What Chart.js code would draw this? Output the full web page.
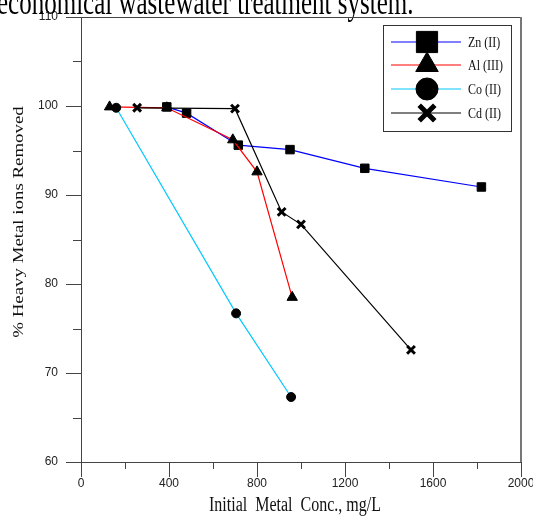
<!DOCTYPE html>
<html>
<head>
<meta charset="utf-8">
<script src="https://cdn.jsdelivr.net/npm/chart.js@4"></script>
<style>
  html, body { margin: 0; padding: 0; background: #fff; }
  #wrap { width: 533px; height: 516px; position: relative; }
</style>
</head>
<body>
<div id="wrap"><canvas id="chart"></canvas></div>
<script>
// values
const znConc = [390, 480, 715, 950, 1290, 1820];
const znRemoved = [99.9, 99.2, 95.6, 95.1, 93.0, 90.9];
const alConc = [130, 390, 690, 800, 960];
const alRemoved = [99.9, 99.8, 96.2, 92.6, 78.5];
const coConc = [160, 705, 955];
const coRemoved = [99.8, 76.7, 67.3];
const cdConc = [255, 700, 912, 1000, 1500];
const cdRemoved = [99.8, 99.7, 88.1, 86.7, 72.6];

const seriesNames = ['Zn (II)', 'Al (III)', 'Co (II)', 'Cd (II)'];
const xMinorTicks = [200, 600, 1000, 1400, 1800];
const yMinorTicks = [65, 75, 85, 95, 105];

const headText = 'economical wastewater treatment system.';
const xTitle = 'Initial  Metal  Conc., mg/L';
const yTitle = '% Heavy Metal ions Removed';

// the serif texts in the picture look stretched vertically
const textStretch = 1.3;
const serif = '"Liberation Serif", "Times New Roman", serif';

function toPoints(xs, ys) {
    return xs.map((x, i) => ({ x: x, y: ys[i] }));
}

const styles = [
    { color: '#0000ff', point: 'rect', radius: 6, legendRadius: 15 },
    { color: '#ff0000', point: 'triangle', radius: 6, legendRadius: 13 },
    { color: '#00c8ff', point: 'circle', radius: 4.5, legendRadius: 11 },
    { color: '#000000', point: 'crossRot', radius: 5.5, legendRadius: 11 }
];
const allData = [
    toPoints(znConc, znRemoved),
    toPoints(alConc, alRemoved),
    toPoints(coConc, coRemoved),
    toPoints(cdConc, cdRemoved)
];

const datasets = allData.map((d, i) => ({
    label: seriesNames[i],
    data: d,
    showLine: true,
    borderColor: styles[i].color,
    borderWidth: 1.2,
    pointStyle: styles[i].point,
    pointRadius: styles[i].radius,
    pointBackgroundColor: '#000',
    pointBorderColor: '#000',
    pointBorderWidth: styles[i].point === 'crossRot' ? 3 : 1,
    order: 3 - i
}));

function stretchedText(ctx, text, x, y, sx, sy) {
    ctx.save();
    ctx.translate(x, y);
    ctx.scale(sx, sy);
    ctx.fillText(text, 0, 0);
    ctx.restore();
}

// extra drawing: frame, tick marks, titles, legend and the cut text line on top
const extras = {
    id: 'extras',
    afterDraw(chart) {
        const ctx = chart.ctx;
        const a = chart.chartArea;
        const xs = chart.scales.x, ys = chart.scales.y;
        ctx.save();

        // text cut off at the top
        ctx.fillStyle = '#000';
        ctx.font = '25px ' + serif;
        ctx.textAlign = 'left';
        ctx.textBaseline = 'alphabetic';
        stretchedText(ctx, headText, -3, 14, 1, 1.42);

        // frame top + right
        ctx.strokeStyle = '#444';
        ctx.lineWidth = 1;
        ctx.beginPath();
        ctx.moveTo(a.left, a.top + 0.5);
        ctx.lineTo(a.right, a.top + 0.5);
        ctx.stroke();
        ctx.strokeStyle = '#777';
        ctx.lineWidth = 2;
        ctx.beginPath();
        ctx.moveTo(a.right, a.top);
        ctx.lineTo(a.right, a.bottom);
        ctx.stroke();

        // major + minor ticks
        ctx.strokeStyle = '#444';
        ctx.lineWidth = 1;
        ctx.beginPath();
        ys.ticks.forEach(t => {
            const py = Math.round(ys.getPixelForValue(t.value)) + 0.5;
            ctx.moveTo(a.left - 15, py);
            ctx.lineTo(a.left, py);
        });
        xs.ticks.forEach(t => {
            const px = Math.round(xs.getPixelForValue(t.value)) + 0.5;
            ctx.moveTo(px, a.bottom);
            ctx.lineTo(px, a.bottom + 15);
        });
        yMinorTicks.forEach(v => {
            const py = Math.round(ys.getPixelForValue(v)) + 0.5;
            ctx.moveTo(a.left - 8, py);
            ctx.lineTo(a.left, py);
        });
        xMinorTicks.forEach(v => {
            const px = Math.round(xs.getPixelForValue(v)) + 0.5;
            ctx.moveTo(px, a.bottom);
            ctx.lineTo(px, a.bottom + 7);
        });
        ctx.stroke();

        // axis titles
        ctx.fillStyle = '#111';
        ctx.font = '16px ' + serif;
        ctx.textAlign = 'center';
        stretchedText(ctx, xTitle, 295, 511, 1, textStretch);
        ctx.save();
        ctx.translate(23, 222);
        ctx.rotate(-Math.PI / 2);
        ctx.font = '14.5px ' + serif;
        stretchedText(ctx, yTitle, 0, 0, textStretch, 1);
        ctx.restore();

        // legend
        const lx = 383, ly = 25, lw = 128, lh = 106;
        ctx.fillStyle = '#fff';
        ctx.fillRect(lx, ly, lw, lh);
        ctx.strokeStyle = '#333';
        ctx.lineWidth = 1;
        ctx.strokeRect(lx + 0.5, ly + 0.5, lw, lh);
        const rowY = [42, 65, 89, 113];
        seriesNames.forEach((name, i) => {
            const y = rowY[i];
            ctx.strokeStyle = styles[i].color;
            ctx.lineWidth = 1.2;
            ctx.beginPath();
            ctx.moveTo(391, y);
            ctx.lineTo(461, y);
            ctx.stroke();
            ctx.fillStyle = '#000';
            ctx.strokeStyle = '#000';
            ctx.lineWidth = styles[i].point === 'crossRot' ? 5 : 1;
            Chart.helpers.drawPoint(ctx, {
                pointStyle: styles[i].point,
                radius: styles[i].legendRadius,
                rotation: 0,
                borderWidth: ctx.lineWidth
            }, 427, y);
            ctx.fillStyle = '#111';
            ctx.font = '12px ' + serif;
            ctx.textAlign = 'left';
            ctx.textBaseline = 'alphabetic';
            stretchedText(ctx, name, 468, y + 5, 1, textStretch);
        });

        ctx.restore();
    }
};

const ctx = document.getElementById('chart').getContext('2d');
const chart = new Chart(ctx, {
    type: 'scatter',
    data: { datasets: datasets },
    options: {
        responsive: true,
        maintainAspectRatio: false,
        animation: false,
        layout: { padding: { top: 17, right: 12, left: 0, bottom: 0 } },
        plugins: {
            legend: { display: false },
            tooltip: { enabled: false }
        },
        scales: {
            x: {
                type: 'linear',
                min: 0,
                max: 2000,
                ticks: {
                    stepSize: 400,
                    padding: 14,
                    color: '#222',
                    maxRotation: 0,
                    font: { family: '"Liberation Sans", Arial, sans-serif', size: 12 },
                    callback: v => String(v)
                },
                grid: { display: false, drawTicks: false },
                border: { display: true, color: '#444', width: 1 },
                afterFit: s => { s.height = 54; s.paddingLeft = 0; s.paddingRight = 0; }
            },
            y: {
                type: 'linear',
                min: 60,
                max: 110,
                ticks: {
                    stepSize: 10,
                    padding: 23,
                    color: '#222',
                    font: { family: '"Liberation Sans", Arial, sans-serif', size: 12 }
                },
                grid: { display: false, drawTicks: false },
                border: { display: true, color: '#444', width: 1 },
                afterFit: s => { s.width = 81; s.paddingTop = 0; s.paddingBottom = 0; }
            }
        }
    },
    plugins: [extras]
});
</script>
</body>
</html>
